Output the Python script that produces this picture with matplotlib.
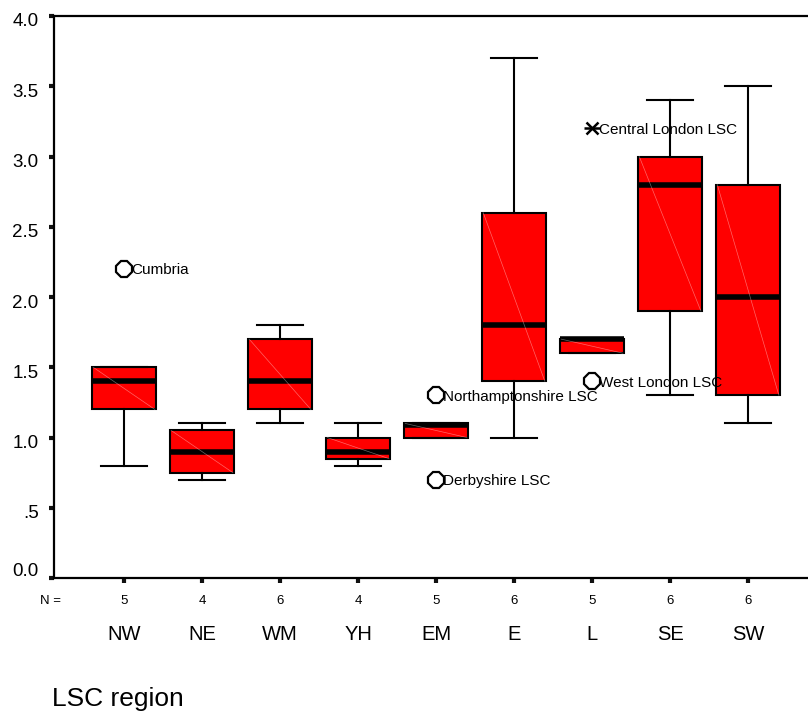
import matplotlib
matplotlib.use('Agg')
import matplotlib.pyplot as plt
import matplotlib.transforms as mtransforms

plt.rcParams['font.family'] = ['Liberation Sans', 'DejaVu Sans']

regions = ['NW', 'NE', 'WM', 'YH', 'EM', 'E', 'L', 'SE', 'SW']
n_counts = [5, 4, 6, 4, 5, 6, 5, 6, 6]
q1 = [1.2, 0.75, 1.2, 0.85, 1.0, 1.4, 1.6, 1.9, 1.3]
medians = [1.4, 0.9, 1.4, 0.9, 1.09, 1.8, 1.7, 2.8, 2.0]
q3 = [1.5, 1.05, 1.7, 1.0, 1.1, 2.6, 1.7, 3.0, 2.8]
whisker_low = [0.8, 0.7, 1.1, 0.8, 1.0, 1.0, 1.6, 1.3, 1.1]
whisker_high = [1.5, 1.1, 1.8, 1.1, 1.1, 3.7, 1.7, 3.4, 3.5]

outlier_region = ['NW', 'EM', 'EM', 'L', 'L']
outlier_values = [2.2, 1.3, 0.7, 3.2, 1.4]
outlier_names = ['Cumbria', 'Northamptonshire LSC', 'Derbyshire LSC',
                 'Central London LSC', 'West London LSC']
outlier_extreme = [False, False, False, True, False]

y_ticks = [0, 0.5, 1, 1.5, 2, 2.5, 3, 3.5, 4]
y_tick_labels = ['0.0', '.5', '1.0', '1.5', '2.0', '2.5', '3.0', '3.5', '4.0']

W, H = 808, 715
fig = plt.figure(figsize=(W / 100, H / 100), dpi=100)
ax = fig.add_axes([54 / W, 1 - 578 / H, 776 / W, 562 / H])

positions = list(range(len(regions)))
stats = []
for i in positions:
    stats.append(dict(med=medians[i], q1=q1[i], q3=q3[i],
                      whislo=whisker_low[i], whishi=whisker_high[i], fliers=[]))

box_w = 0.83
ax.bxp(stats, positions=positions, widths=box_w, capwidths=0.58,
       patch_artist=True, showfliers=False, manage_ticks=False,
       boxprops=dict(facecolor='#ff0000', edgecolor='black', linewidth=1.5),
       medianprops=dict(color='black', linewidth=4, solid_capstyle='butt'),
       whiskerprops=dict(color='black', linewidth=1.5),
       capprops=dict(color='black', linewidth=1.5))

# faint diagonal artefact inside each box
for i in positions:
    ax.plot([i - box_w / 2 + 0.02, i + box_w / 2 - 0.02], [q3[i], q1[i]],
            color='white', lw=0.5, alpha=0.4, zorder=2.5)

# outliers
for reg, v, name, ext in zip(outlier_region, outlier_values, outlier_names, outlier_extreme):
    x = regions.index(reg)
    if ext:
        ax.plot([x], [v], marker='x', ms=9, mew=1.8, color='black', zorder=4)
        ax.plot([x], [v], marker='_', ms=12, mew=1.8, color='black', zorder=4)
    else:
        ax.plot([x], [v], marker='8', ms=13, mew=1.6, mfc='none',
                mec='black', zorder=4)
    ax.annotate(name, (x, v), xytext=(5, 0), textcoords='offset points',
                ha='left', va='center_baseline', fontsize=11, zorder=5)

ax.set_xlim(-0.897, 9.05)
ax.set_ylim(0, 4)

for s in ['left', 'top', 'bottom']:
    ax.spines[s].set_linewidth(1.6)
ax.spines['right'].set_visible(False)

ax.set_xticks(positions)
ax.set_xticklabels([''] * len(positions))
ax.set_yticks(y_ticks)
ax.set_yticklabels(y_tick_labels, fontsize=13.5)
ax.tick_params(axis='both', direction='out', length=3.5, width=3, color='#111111')
ax.tick_params(axis='y', pad=7.5)

for lab in ax.get_yticklabels():
    dy = 0.08 if lab.get_text() == '0.0' else -0.04
    lab.set_transform(lab.get_transform() +
                      mtransforms.ScaledTranslation(0, dy, fig.dpi_scale_trans))

trans = mtransforms.blended_transform_factory(ax.transData, fig.transFigure)
for i in positions:
    ax.text(i, 1 - 604 / H, str(n_counts[i]), transform=trans, ha='center',
            va='baseline', fontsize=9.5)
    ax.text(i, 1 - 639.5 / H, regions[i], transform=trans, ha='center',
            va='baseline', fontsize=14.5)
fig.text(40 / W, 1 - 604 / H, 'N =', ha='left', va='baseline', fontsize=9.5)
fig.text(52 / W, 1 - 706 / H, 'LSC region', ha='left', va='baseline', fontsize=19)

fig.savefig('out.png', dpi=100)
